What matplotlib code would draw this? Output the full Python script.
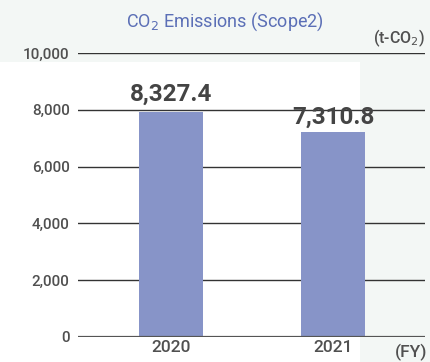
import matplotlib
matplotlib.use("Agg")
import matplotlib.pyplot as plt
from matplotlib.patches import Rectangle

years = ["2020", "2021"]
bar_heights = [7930, 7220]          # bar heights as drawn in the picture
value_labels = ["8,327.4", "7,310.8"]
yticks = [0, 2000, 4000, 6000, 8000, 10000]
ytick_labels = ["0", "2,000", "4,000", "6,000", "8,000", "10,000"]

W, H = 431, 362
fig = plt.figure(figsize=(W / 100, H / 100), dpi=100)
fig.patch.set_facecolor("#f3f7f5")
bg = Rectangle((0, 0), 360 / W, 1 - 62 / H, transform=fig.transFigure,
               facecolor="white", edgecolor="none", zorder=-5)
fig.add_artist(bg)

ax = fig.add_axes([78 / W, 1 - 337 / H, (425 - 78) / W, (337 - 53) / H])
ax.set_facecolor("none")
fam = ["Roboto", "DejaVu Sans"]
txt_col = "#505050"

x = list(range(len(years)))
ax.bar(x, bar_heights, width=0.395, color="#8794c8", zorder=2)
ax.set_xlim(-0.574, 1.568)
ax.set_ylim(0, 10000)

for yv in yticks:
    if yv == 0:
        ax.axhline(yv, color="#555555", lw=1.6, zorder=3)
    else:
        ax.axhline(yv, color="#333333", lw=1.0, zorder=1)

for sp in ax.spines.values():
    sp.set_visible(False)
ax.set_yticks(yticks)
ax.set_yticklabels(ytick_labels, fontsize=11, color=txt_col, family=fam,
                   fontweight="medium")
ax.set_xticks(x)
ax.set_xticklabels(years, fontsize=12.5, color=txt_col, family=fam,
                   fontweight="medium")
ax.tick_params(axis="y", length=0, pad=6)
ax.tick_params(axis="x", length=0, pad=2)

label_y = [8560, 7750]
for xi, lab, ly in zip(x, value_labels, label_y):
    ax.text(xi, ly, lab, ha="center", va="center", fontsize=17.5, fontweight="bold",
            color="#444444", family=fam, zorder=4)

fig.text(225 / W, 1 - 22 / H, "CO$_2$ Emissions (Scope2)", ha="center", va="center",
         fontsize=13, color="#5b6fb6", family=fam)
fig.text(425 / W, 1 - 38 / H, "(t-CO$_2$)", ha="right", va="center", fontsize=11.5,
         color=txt_col, family=fam, fontweight="medium")
fig.text(427 / W, 1 - 352 / H, "(FY)", ha="right", va="center", fontsize=12.5,
         color=txt_col, family=fam, fontweight="medium")

fig.savefig("out.png", dpi=100, facecolor=fig.get_facecolor())
